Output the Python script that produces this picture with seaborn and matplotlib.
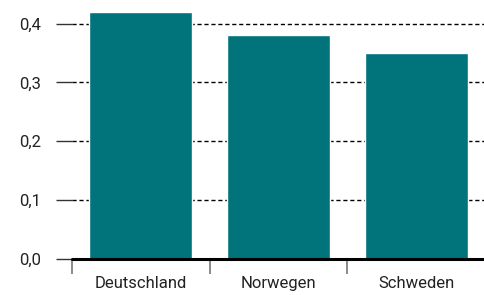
import matplotlib.pyplot as plt
import seaborn as sns
import pandas as pd

countries = ['Deutschland', 'Norwegen', 'Schweden']
values = [0.42, 0.38, 0.35]
yticks = [0.0, 0.1, 0.2, 0.3, 0.4]

df = pd.DataFrame({'land': countries, 'wert': values})

sns.set_style('white')
plt.rcParams['font.family'] = ['Roboto', 'DejaVu Sans']

fig = plt.figure(figsize=(4.85, 2.95), dpi=100)
ax = fig.add_axes([72 / 485, 36 / 295, 413 / 485, 259 / 295])

sns.barplot(data=df, x='land', y='wert', color='#00737b', saturation=1,
            width=0.75, ax=ax, zorder=2)

ax.set_xlim(-0.5, 2.5)
ax.set_ylim(0, 0.44)
ax.set_xlabel('')
ax.set_ylabel('')

# dashed grid behind the bars
for y in yticks[1:]:
    ax.axhline(y, color='black', lw=1, ls=(0, (3, 2)), zorder=1)
ax.axhline(0, color='black', lw=2.2, zorder=3, clip_on=False)

for s in ['top', 'right', 'left', 'bottom']:
    ax.spines[s].set_visible(False)

ax.set_yticks(yticks)
ax.set_yticklabels([f'{v:.1f}'.replace('.', ',') for v in yticks], fontsize=12, color='#222222')
ax.tick_params(axis='y', length=11.5, width=1, color='#333333', pad=11, left=True)

# category borders as major ticks, names as minor ticks
ax.set_xticks([-0.5, 0.5, 1.5])
ax.set_xticklabels([])
ax.tick_params(axis='x', which='major', length=11, width=1.2, color='#777777', bottom=True)
ax.set_xticks([0, 1, 2], minor=True)
ax.set_xticklabels(countries, minor=True, fontsize=12, color='#222222')
ax.tick_params(axis='x', which='minor', length=0, pad=12)

fig.savefig('out.png', dpi=100)
